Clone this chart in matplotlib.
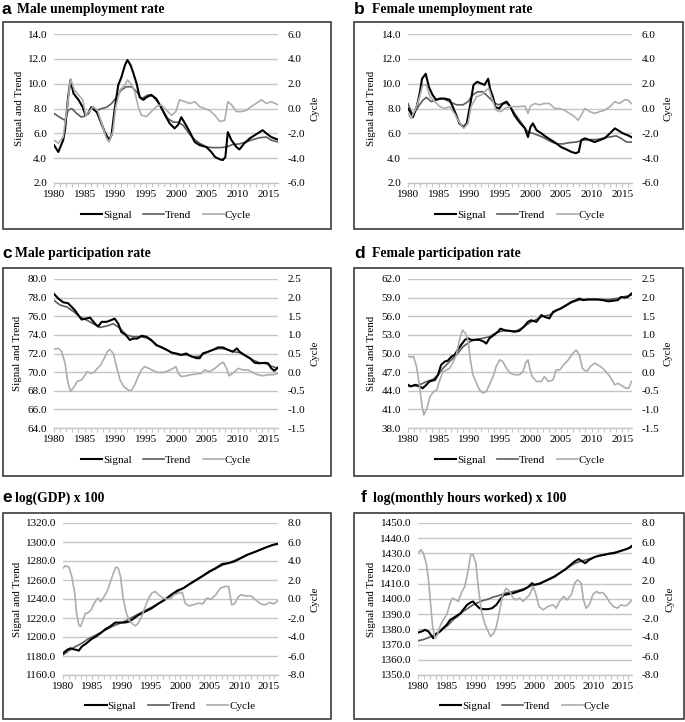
import matplotlib
matplotlib.use('Agg')
import matplotlib.pyplot as plt
from matplotlib.patches import Rectangle
from matplotlib.lines import Line2D
from matplotlib.ticker import FormatStrFormatter

# ---------------- data ----------------
# a: Male unemployment rate
a_sig_x = [1980.0,1980.7,1981.5,1981.8,1982.3,1982.7,1983.2,1984.0,1984.7,1985.1,1985.6,1986.1,1987.0,1987.5,1988.3,1989.0,1989.4,1989.9,1990.5,1991.0,1991.6,1992.0,1992.5,1992.9,1993.5,1994.0,1994.6,1995.1,1995.9,1996.7,1997.5,1998.1,1998.9,1999.7,2000.3,2000.8,2001.4,2002.2,2003.0,2003.8,2004.9,2005.7,2006.3,2007.1,2007.6,2008.0,2008.4,2009.0,2009.8,2010.3,2011.1,2012.0,2012.8,2013.6,2014.1,2014.7,2015.5,2016.0,2016.6]
a_sig_y = [5.05,4.5,5.45,6.26,8.9,10.3,9.2,8.7,8.1,7.5,7.6,8.1,7.7,7.1,6.1,5.45,5.85,7.9,9.9,10.5,11.5,11.9,11.5,10.95,10.0,8.9,8.7,8.9,9.1,8.8,8.1,7.5,6.8,6.4,6.7,7.3,6.8,6.1,5.3,5.05,4.9,4.5,4.1,3.9,3.85,4.1,6.1,5.45,4.9,4.7,5.2,5.6,5.85,6.1,6.25,6.0,5.7,5.6,5.5]
a_tr_x = [1980.0,1981.25,1981.8,1982.3,1982.9,1983.7,1984.5,1985.3,1986.1,1987.0,1987.8,1988.6,1989.4,1990.2,1991.0,1991.8,1992.7,1993.5,1994.3,1995.4,1996.2,1997.0,1997.8,1998.6,1999.5,2000.3,2001.1,2001.9,2002.7,2003.8,2004.9,2006.0,2007.1,2008.2,2009.2,2010.3,2011.4,2012.5,2013.6,2014.7,2015.5,2016.6]
a_tr_y = [7.6,7.2,7.05,7.85,8.0,7.6,7.3,7.45,8.1,7.85,8.0,8.1,8.4,8.9,9.5,9.75,9.75,9.35,8.8,9.1,8.95,8.5,7.85,7.2,6.9,6.9,6.65,6.1,5.6,5.2,4.9,4.85,4.85,4.9,5.1,5.15,5.3,5.5,5.65,5.7,5.45,5.3]
a_cy_x = [1980.0,1980.7,1981.5,1982.1,1982.7,1983.3,1984.0,1984.7,1985.2,1985.9,1986.4,1987.1,1987.8,1988.5,1989.0,1989.6,1990.1,1990.8,1991.6,1992.0,1992.7,1993.2,1993.75,1994.3,1995.1,1995.9,1996.7,1997.5,1998.4,1999.2,1999.9,2000.5,2001.4,2002.2,2003.0,2003.8,2004.6,2005.4,2006.3,2007.1,2007.9,2008.4,2009.0,2009.8,2010.6,2011.4,2012.2,2013.0,2013.9,2014.7,2015.5,2016.6]
a_cy_y = [-2.55,-2.8,-2.3,-0.15,2.4,1.5,1.1,0.7,-0.55,-0.15,0.15,-0.15,-1.2,-2.3,-2.7,-1.9,0.15,1.5,1.9,2.3,1.9,1.35,0.15,-0.55,-0.65,-0.25,0.15,0.3,-0.15,-0.55,-0.25,0.7,0.55,0.4,0.55,0.15,0.0,-0.15,-0.55,-1.05,-0.95,0.55,0.3,-0.25,-0.25,-0.15,0.15,0.4,0.7,0.4,0.55,0.3]

# b: Female unemployment rate
b_sig_x = [1980.0,1980.4,1980.8,1981.4,1981.9,1982.3,1982.9,1983.4,1984.0,1984.6,1985.2,1986.0,1986.8,1987.3,1987.9,1988.4,1989.1,1989.6,1990.2,1990.7,1991.3,1992.0,1992.5,1993.1,1993.4,1993.9,1994.3,1994.9,1995.5,1996.1,1996.7,1997.4,1998.2,1999.1,1999.6,2000.0,2000.4,2001.0,2001.8,2002.6,2003.4,2004.2,2005.0,2005.9,2006.7,2007.4,2007.9,2008.3,2008.9,2009.7,2010.5,2011.3,2012.1,2013.0,2013.8,2014.3,2015.1,2015.9,2016.5]
b_sig_y = [8.0,7.7,7.3,8.1,9.2,10.4,10.8,9.75,9.1,8.7,8.8,8.8,8.7,8.15,7.45,6.8,6.5,6.8,8.4,9.9,10.15,10.0,9.9,10.4,9.6,8.9,8.1,8.0,8.4,8.55,8.15,7.45,6.9,6.4,5.7,6.5,6.8,6.25,6.0,5.7,5.45,5.2,4.9,4.7,4.5,4.4,4.5,5.45,5.6,5.45,5.3,5.45,5.6,6.0,6.4,6.25,6.0,5.85,5.7]
b_tr_x = [1980.0,1980.8,1981.6,1982.4,1983.0,1983.8,1984.6,1985.7,1986.8,1987.9,1989.0,1989.8,1990.6,1991.4,1992.2,1993.1,1993.9,1994.7,1995.5,1996.3,1997.1,1998.0,1998.8,1999.6,2000.4,2001.2,2002.0,2002.9,2003.7,2004.5,2005.3,2006.4,2007.5,2008.6,2009.7,2010.8,2011.8,2012.9,2014.0,2014.8,2015.7,2016.5]
b_tr_y = [8.4,7.45,8.1,8.65,8.9,8.55,8.7,8.8,8.55,8.3,8.3,8.55,9.1,9.35,9.35,8.95,8.55,8.3,8.4,8.4,7.85,7.2,6.65,6.1,6.0,5.85,5.7,5.45,5.25,5.15,5.15,5.25,5.3,5.45,5.5,5.5,5.6,5.7,5.8,5.6,5.3,5.3]
b_cy_x = [1980.0,1980.5,1981.3,1981.9,1982.4,1983.0,1983.6,1984.4,1985.2,1986.0,1986.8,1987.6,1988.3,1989.1,1989.8,1990.3,1991.2,1992.0,1992.8,1993.2,1993.8,1994.4,1995.2,1995.8,1996.6,1997.4,1998.2,1999.1,1999.6,2000.0,2000.7,2001.5,2002.3,2003.1,2004.0,2004.8,2005.6,2006.4,2007.2,2007.8,2008.3,2008.9,2009.7,2010.5,2011.3,2012.1,2013.0,2013.8,2014.6,2015.4,2015.9,2016.5]
b_cy_y = [-0.4,-0.8,0.0,0.95,1.9,1.9,0.95,0.55,0.15,0.0,0.15,-0.4,-1.05,-1.6,-1.2,0.15,0.95,1.1,1.5,1.6,0.7,-0.15,-0.25,0.0,0.15,0.15,0.15,0.2,-0.4,0.2,0.4,0.3,0.4,0.4,0.0,0.0,-0.15,-0.4,-0.65,-0.95,-0.55,0.0,-0.25,-0.4,-0.25,-0.15,0.15,0.55,0.4,0.7,0.7,0.4]

# c: Male participation rate
c_sig_x = [1980.0,1980.7,1981.5,1982.3,1982.9,1983.4,1984.0,1984.5,1985.2,1985.9,1986.7,1987.2,1987.8,1988.6,1989.4,1989.9,1990.5,1991.0,1991.7,1992.4,1992.9,1993.6,1994.3,1995.1,1995.9,1996.7,1997.5,1998.4,1999.2,2000.0,2000.8,2001.6,2002.4,2003.3,2003.8,2004.3,2005.2,2006.0,2006.8,2007.6,2008.4,2009.2,2009.9,2010.3,2011.1,2012.0,2012.8,2013.6,2014.4,2015.0,2015.5,2016.0,2016.6]
c_sig_y = [78.4,77.9,77.5,77.4,77.0,76.65,76.1,75.65,75.75,75.85,75.2,74.9,75.4,75.4,75.6,75.75,75.2,74.3,74.0,73.45,73.6,73.6,73.9,73.8,73.45,72.9,72.7,72.4,72.1,72.0,71.85,72.0,71.7,71.5,71.5,72.0,72.2,72.4,72.65,72.65,72.4,72.2,72.55,72.2,71.85,71.5,71.0,70.95,71.0,70.95,70.4,70.15,70.5]
c_tr_x = [1980.0,1981.0,1982.1,1983.2,1984.2,1985.3,1986.4,1987.5,1988.6,1989.7,1990.8,1991.8,1992.9,1994.0,1995.1,1996.2,1997.3,1998.4,1999.5,2000.5,2001.6,2002.7,2003.8,2004.9,2006.0,2007.1,2008.2,2009.2,2010.3,2011.4,2012.5,2013.6,2014.7,2015.5,2016.6]
c_tr_y = [77.7,77.2,77.0,76.5,75.95,75.6,75.2,74.8,74.95,75.2,74.7,74.0,73.8,73.8,73.7,73.25,72.7,72.4,72.0,71.85,71.85,71.65,71.7,72.1,72.4,72.55,72.45,72.2,72.1,71.7,71.3,71.0,70.9,70.65,70.4]
c_cy_x = [1980.0,1980.7,1981.25,1981.8,1982.3,1982.7,1983.3,1983.8,1984.5,1985.1,1985.4,1986.0,1986.5,1987.1,1987.6,1988.2,1988.7,1989.1,1989.7,1990.2,1990.8,1991.4,1992.2,1992.7,1993.2,1993.75,1994.3,1994.8,1995.5,1996.2,1997.0,1997.8,1998.6,1999.5,1999.9,2000.3,2000.8,2001.6,2002.4,2003.3,2004.1,2004.6,2005.4,2006.3,2007.1,2007.7,2008.2,2008.6,2009.2,2010.1,2010.9,2011.7,2012.5,2013.3,2014.1,2015.0,2015.8,2016.6]
c_cy_y = [0.61,0.64,0.55,0.24,-0.3,-0.52,-0.39,-0.25,-0.21,-0.07,0.01,-0.03,-0.01,0.1,0.19,0.37,0.55,0.61,0.5,0.15,-0.21,-0.39,-0.49,-0.48,-0.34,-0.12,0.06,0.15,0.1,0.04,-0.01,-0.01,0.03,0.1,0.15,-0.03,-0.12,-0.1,-0.07,-0.05,-0.03,0.06,0.01,0.1,0.22,0.26,0.1,-0.1,-0.03,0.1,0.06,0.06,-0.01,-0.07,-0.1,-0.07,-0.07,-0.03]

# d: Female participation rate
d_sig_x = [1980.0,1980.5,1981.1,1981.9,1982.4,1983.0,1983.5,1984.4,1984.9,1985.4,1986.0,1986.5,1987.1,1987.6,1988.2,1988.7,1989.3,1989.8,1990.3,1991.1,1991.7,1992.4,1992.8,1993.3,1994.0,1994.7,1995.1,1995.8,1996.6,1997.4,1998.2,1998.9,1999.6,2000.1,2001.0,2001.8,2002.3,2003.1,2003.7,2004.2,2005.0,2005.9,2006.7,2007.5,2008.0,2008.6,2009.4,2010.2,2011.0,2011.8,2012.7,2013.5,2014.3,2014.8,2015.4,2015.9,2016.5]
d_sig_y = [44.95,44.7,44.95,44.7,44.4,44.95,45.5,45.75,46.55,48.15,48.7,48.85,49.5,49.75,50.7,51.4,52.2,52.45,52.2,52.2,52.2,51.9,51.6,52.45,52.95,53.5,54.0,53.75,53.65,53.5,53.65,54.3,55.1,55.35,55.1,56.2,55.9,55.65,56.7,56.95,57.25,57.8,58.3,58.6,58.85,58.6,58.7,58.7,58.7,58.6,58.4,58.5,58.6,59.1,59.0,59.1,59.65]
d_tr_x = [1980.0,1981.1,1982.2,1983.1,1984.1,1984.9,1985.7,1986.8,1987.9,1989.0,1990.1,1991.2,1992.2,1993.3,1994.4,1995.5,1996.6,1997.7,1998.8,1999.9,2001.0,2002.0,2003.1,2004.2,2005.3,2006.4,2007.5,2008.6,2009.7,2010.8,2011.8,2012.9,2014.0,2015.1,2016.5]
d_tr_y = [44.7,44.8,45.1,45.5,45.85,46.55,47.6,48.7,49.75,51.1,51.9,52.3,52.45,52.7,53.35,53.65,53.65,53.65,54.2,54.95,55.5,56.0,56.2,56.85,57.5,58.05,58.5,58.7,58.7,58.7,58.7,58.7,58.85,59.1,59.4]
d_cy_x = [1980.0,1980.5,1980.9,1981.4,1981.9,1982.3,1982.6,1983.1,1983.6,1984.2,1984.7,1985.2,1985.7,1986.3,1986.8,1987.3,1987.9,1988.4,1988.9,1989.4,1989.8,1990.2,1990.6,1991.2,1991.7,1992.2,1992.8,1993.3,1993.9,1994.4,1995.0,1995.5,1996.1,1996.7,1997.4,1998.2,1998.8,1999.2,1999.6,1999.9,2000.3,2001.0,2001.8,2002.3,2002.9,2003.7,2004.2,2004.8,2005.4,2006.2,2006.9,2007.5,2008.0,2008.5,2009.2,2009.8,2010.5,2011.3,2012.1,2013.0,2013.8,2014.3,2015.0,2015.6,2016.1,2016.5]
d_cy_y = [0.43,0.4,0.42,0.15,-0.39,-0.92,-1.15,-0.97,-0.65,-0.52,-0.48,-0.21,0.01,0.06,0.1,0.24,0.46,0.86,1.13,1.04,0.86,0.33,-0.07,-0.3,-0.48,-0.56,-0.52,-0.34,-0.12,0.15,0.33,0.28,0.1,-0.03,-0.07,-0.07,0.01,0.24,0.33,0.1,-0.12,-0.25,-0.25,-0.12,-0.25,-0.21,0.06,0.06,0.19,0.33,0.5,0.59,0.46,0.1,0.01,0.15,0.24,0.17,0.06,-0.12,-0.34,-0.3,-0.37,-0.43,-0.43,-0.25]

# e: log(GDP) x 100
e_sig_x = [1980.0,1980.7,1981.25,1981.8,1982.3,1982.7,1983.2,1984.0,1984.8,1985.6,1986.4,1987.2,1988.0,1988.9,1989.7,1990.5,1991.3,1992.1,1992.9,1994.0,1995.1,1996.2,1997.3,1998.4,1999.5,2000.5,2001.6,2002.7,2003.8,2004.9,2006.0,2007.1,2008.2,2009.2,2010.3,2011.4,2012.5,2013.6,2014.7,2015.8,2016.6]
e_sig_y = [1182.9,1186.4,1188.1,1187.1,1186.4,1185.7,1189.9,1193.4,1197.6,1200.5,1204.0,1208.2,1211.0,1215.2,1215.2,1215.2,1216.3,1219.8,1223.3,1226.8,1230.3,1234.9,1239.1,1244.4,1249.0,1251.4,1256.0,1260.2,1264.4,1269.0,1272.5,1276.8,1277.8,1279.6,1283.1,1286.6,1289.1,1291.9,1294.7,1297.1,1298.0]
e_tr_x = [1980.0,1981.0,1982.1,1983.2,1984.2,1985.3,1986.4,1987.5,1988.6,1989.7,1990.8,1991.8,1992.9,1994.0,1995.1,1996.2,1997.3,1998.4,1999.5,2000.5,2001.6,2002.7,2003.8,2004.9,2006.0,2007.1,2008.2,2009.2,2010.3,2011.4,2012.5,2013.6,2014.7,2015.8,2016.6]
e_tr_y = [1181.1,1185.7,1189.9,1193.4,1197.6,1201.2,1204.7,1208.2,1211.7,1214.5,1217.3,1220.8,1224.4,1227.9,1231.4,1235.3,1239.3,1243.6,1247.8,1251.6,1255.7,1259.8,1264.0,1268.2,1272.0,1275.5,1278.0,1280.5,1283.5,1286.6,1289.3,1292.0,1294.6,1297.0,1298.3]
e_cy_x = [1980.0,1980.4,1981.0,1981.5,1982.0,1982.3,1982.7,1983.0,1983.4,1983.8,1984.2,1984.8,1985.3,1985.9,1986.4,1987.0,1987.5,1988.0,1988.6,1989.0,1989.4,1989.8,1990.2,1990.7,1991.2,1991.7,1992.3,1992.8,1993.4,1994.0,1994.6,1995.1,1995.7,1996.3,1997.0,1997.8,1998.4,1998.9,1999.7,2000.3,2000.8,2001.4,2002.2,2003.0,2003.8,2004.5,2005.2,2006.0,2006.8,2007.6,2008.2,2008.7,2009.2,2009.9,2010.3,2011.1,2012.0,2012.8,2013.6,2014.4,2015.2,2015.9,2016.6]
e_cy_y = [3.25,3.5,3.36,2.37,0.62,-1.5,-2.72,-2.9,-2.2,-1.5,-1.5,-1.14,-0.44,0.09,-0.26,0.26,0.79,1.67,2.73,3.36,3.25,2.37,0.26,-1.32,-2.2,-2.55,-2.83,-2.55,-1.85,-0.79,0.09,0.62,0.79,0.44,0.09,-0.02,0.09,0.44,0.62,0.69,-0.44,-0.72,-0.61,-0.44,-0.51,0.09,-0.02,0.44,1.14,1.32,1.32,-0.61,-0.51,0.26,0.44,0.33,0.33,-0.09,-0.51,-0.61,-0.37,-0.51,-0.16]

# f: log(monthly hours worked) x 100
f_sig_x = [1980.0,1980.6,1981.2,1981.8,1982.2,1982.6,1983.1,1983.75,1984.3,1984.9,1985.5,1986.0,1986.6,1987.3,1987.8,1988.4,1989.0,1989.4,1989.9,1990.5,1991.1,1992.0,1992.7,1993.4,1994.0,1994.7,1995.4,1996.25,1997.1,1998.0,1998.8,1999.5,1999.9,2000.8,2001.6,2002.5,2003.4,2004.2,2005.1,2005.9,2006.8,2007.5,2008.1,2008.6,2009.3,2010.2,2011.0,2011.9,2012.7,2013.6,2014.4,2015.3,2016.1,2016.6]
f_sig_y = [1377.9,1378.6,1379.7,1378.6,1376.4,1374.2,1377.0,1378.6,1380.8,1383.0,1386.3,1387.4,1388.9,1390.7,1393.3,1396.2,1397.7,1398.4,1396.2,1394.0,1393.3,1393.3,1394.0,1396.2,1399.5,1402.7,1403.2,1403.8,1404.9,1406.0,1407.8,1410.4,1409.3,1410.0,1411.5,1413.1,1414.8,1417.0,1419.2,1421.9,1424.7,1426.3,1424.7,1423.6,1425.8,1427.6,1428.5,1429.1,1429.8,1430.2,1431.3,1432.4,1433.5,1435.0]
f_tr_x = [1980.0,1980.9,1981.8,1982.6,1983.5,1984.3,1985.2,1986.0,1986.9,1987.7,1988.6,1989.4,1990.3,1991.1,1992.0,1992.8,1993.7,1994.5,1995.4,1996.25,1997.1,1998.0,1998.8,1999.7,2000.8,2002.0,2003.2,2004.4,2005.6,2006.8,2008.0,2009.2,2010.4,2011.6,2012.8,2014.0,2015.2,2016.6]
f_tr_y = [1372.5,1373.3,1374.6,1376.0,1377.9,1380.3,1383.0,1386.3,1388.9,1391.8,1394.0,1396.2,1397.7,1399.0,1399.9,1401.2,1402.1,1403.2,1404.3,1404.9,1405.6,1406.7,1407.8,1409.1,1410.4,1412.5,1414.8,1417.5,1420.5,1423.5,1425.0,1426.3,1427.8,1429.0,1430.0,1431.0,1432.3,1434.2]
f_cy_x = [1980.0,1980.5,1980.9,1981.4,1981.8,1982.2,1982.5,1982.9,1983.3,1983.75,1984.3,1984.9,1985.5,1985.9,1986.5,1986.9,1987.4,1988.0,1988.6,1989.0,1989.4,1989.9,1990.3,1990.85,1991.4,1992.0,1992.4,1993.0,1993.4,1994.0,1994.5,1995.1,1995.7,1996.25,1996.8,1997.4,1998.0,1998.5,1999.1,1999.7,2000.1,2000.7,2001.4,2002.2,2003.1,2003.6,2004.2,2004.9,2005.5,2006.2,2006.8,2007.3,2007.9,2008.3,2008.75,2009.3,2009.9,2010.5,2011.0,2011.6,2012.2,2012.7,2013.4,2014.1,2014.7,2015.3,2015.85,2016.6]
f_cy_y = [4.84,5.19,4.84,3.78,2.02,-0.79,-2.9,-4.13,-3.78,-2.9,-2.2,-1.67,-0.44,0.09,-0.09,-0.26,0.62,1.32,3.08,4.66,4.66,3.78,1.32,-1.32,-2.55,-3.43,-3.95,-3.53,-2.9,-1.14,0.44,1.14,0.79,0.09,-0.09,0.09,-0.26,0.09,0.44,1.32,0.62,-0.79,-1.14,-0.79,-0.61,-0.97,-0.26,0.26,-0.09,0.44,1.67,2.02,1.67,-0.09,-0.97,-0.61,0.44,0.79,0.62,0.69,0.26,-0.26,-0.79,-0.97,-0.61,-0.72,-0.61,-0.09]

# axis ticks / labels
x_label_years = [1980, 1985, 1990, 1995, 2000, 2005, 2010, 2015]
x_minor_years = list(range(1980, 2017))
a_lt = [2.0, 4.0, 6.0, 8.0, 10.0, 12.0, 14.0]
a_rt = [-6.0, -4.0, -2.0, 0.0, 2.0, 4.0, 6.0]
c_lt = [64.0, 66.0, 68.0, 70.0, 72.0, 74.0, 76.0, 78.0, 80.0]
c_rt = [-1.5, -1.0, -0.5, 0.0, 0.5, 1.0, 1.5, 2.0, 2.5]
d_lt = [38.0, 41.0, 44.0, 47.0, 50.0, 53.0, 56.0, 59.0, 62.0]
e_lt = [1160.0, 1180.0, 1200.0, 1220.0, 1240.0, 1260.0, 1280.0, 1300.0, 1320.0]
e_rt = [-8.0, -6.0, -4.0, -2.0, 0.0, 2.0, 4.0, 6.0, 8.0]
f_lt = [1350.0, 1360.0, 1370.0, 1380.0, 1390.0, 1400.0, 1410.0, 1420.0, 1430.0, 1440.0, 1450.0]

titles = ["Male unemployment rate", "Female unemployment rate",
          "Male participation rate", "Female participation rate",
          "log(GDP) x 100", "log(monthly hours worked) x 100"]
letters = ["a", "b", "c", "d", "e", "f"]
series_names = ["Signal", "Trend", "Cycle"]

# ---------------- styling ----------------
W, H = 685, 722
SERIF = ['Liberation Serif', 'DejaVu Serif']
SANS = ['Liberation Sans', 'DejaVu Sans']
SIG_C, TR_C, CY_C = '#000000', '#5e5e5e', '#adadad'
GRID_C = '#c6c6c6'
FS = 8

fig = plt.figure(figsize=(W / 100, H / 100), dpi=100)


def fx(px):
    return px / W


def fy(py):
    return 1 - py / H


def panel(i, box, area, letter_x, title_x, title_y, ylab_x, cyc_x, legend_y,
          sig, tr, cy, lt, rt):
    bx0, by0, bx1, by1 = box
    fig.add_artist(Rectangle((fx(bx0), fy(by1)), fx(bx1) - fx(bx0), fy(by0) - fy(by1),
                             transform=fig.transFigure, fill=False,
                             edgecolor='#3c3c3c', lw=1.2))
    # title
    fig.text(fx(letter_x), fy(title_y), letters[i], family=SANS, weight='bold',
             fontsize=12.5, ha='left', va='center')
    fig.text(fx(title_x), fy(title_y), titles[i], family=SERIF, weight='bold',
             fontsize=9.8, ha='left', va='center')

    x0, y0, x1, y1 = area
    ax = fig.add_axes([fx(x0), fy(y1), fx(x1) - fx(x0), fy(y0) - fy(y1)])
    ax.plot(tr[0], tr[1], color=TR_C, lw=1.2, zorder=3)
    ax.plot(sig[0], sig[1], color=SIG_C, lw=1.5, zorder=4)
    ax.set_xlim(1980, 2016.6)
    ax.set_ylim(lt[0], lt[-1])
    ax.set_yticks(lt)
    ax.yaxis.set_major_formatter(FormatStrFormatter('%.1f'))
    ax.set_xticks(x_label_years)
    ax.set_xticks(x_minor_years, minor=True)
    ax.set_xticklabels([str(v) for v in x_label_years])
    ax.grid(axis='y', color=GRID_C, lw=1.0)
    ax.set_axisbelow(True)
    for s in ['top', 'left', 'right']:
        ax.spines[s].set_visible(False)
    ax.spines['bottom'].set_color(GRID_C)
    ax.spines['bottom'].set_linewidth(1.0)
    ax.tick_params(axis='y', length=0, pad=5, labelsize=FS)
    ax.tick_params(axis='x', which='both', length=3, color=GRID_C, width=0.8,
                   pad=2, labelsize=FS)
    for lab in ax.get_xticklabels() + ax.get_yticklabels():
        lab.set_family(SERIF)

    ax2 = ax.twinx()
    ax2.plot(cy[0], cy[1], color=CY_C, lw=1.2)
    ax2.set_ylim(rt[0], rt[-1])
    ax2.set_yticks(rt)
    ax2.yaxis.set_major_formatter(FormatStrFormatter('%.1f'))
    for s in ['top', 'left', 'right', 'bottom']:
        ax2.spines[s].set_visible(False)
    ax2.tick_params(axis='y', length=0, pad=7, labelsize=FS)
    for lab in ax2.get_yticklabels():
        lab.set_family(SERIF)

    yc = (y0 + y1) / 2
    fig.text(fx(ylab_x), fy(yc), "Signal and Trend", family=SERIF, fontsize=7.8,
             rotation=90, ha='center', va='center')
    fig.text(fx(cyc_x), fy(yc), "Cycle", family=SERIF, fontsize=7.8,
             rotation=90, ha='center', va='center')

    handles = [Line2D([], [], color=SIG_C, lw=1.5),
               Line2D([], [], color=TR_C, lw=1.2),
               Line2D([], [], color=CY_C, lw=1.2)]
    fig.legend(handles, series_names, loc='center',
               bbox_to_anchor=(fx((x0 + x1) / 2), fy(legend_y)),
               ncol=3, frameon=False, prop={'family': SERIF, 'size': FS},
               handlelength=1.9, handletextpad=0.1, columnspacing=1.0,
               borderaxespad=0, borderpad=0)


panel(0, (3, 22, 331, 229), (54, 34, 278, 183), 2, 17, 10, 20, 315, 215,
      (a_sig_x, a_sig_y), (a_tr_x, a_tr_y), (a_cy_x, a_cy_y), a_lt, a_rt)
panel(1, (354, 22, 683, 229), (408, 34, 632, 183), 354, 372, 10, 372, 668, 215,
      (b_sig_x, b_sig_y), (b_tr_x, b_tr_y), (b_cy_x, b_cy_y), a_lt, a_rt)
panel(2, (3, 268, 331, 476), (54, 279, 278, 428), 2, 15, 253, 18, 315, 460,
      (c_sig_x, c_sig_y), (c_tr_x, c_tr_y), (c_cy_x, c_cy_y), c_lt, c_rt)
panel(3, (354, 268, 683, 476), (408, 279, 632, 428), 354, 372, 254, 372, 668, 460,
      (d_sig_x, d_sig_y), (d_tr_x, d_tr_y), (d_cy_x, d_cy_y), d_lt, c_rt)
panel(4, (3, 513, 331, 719), (63, 523, 278, 675), 2, 15, 498, 18, 315, 706,
      (e_sig_x, e_sig_y), (e_tr_x, e_tr_y), (e_cy_x, e_cy_y), e_lt, e_rt)
panel(5, (354, 513, 684, 719), (418, 523, 632, 675), 361, 373, 498, 372, 670, 706,
      (f_sig_x, f_sig_y), (f_tr_x, f_tr_y), (f_cy_x, f_cy_y), f_lt, e_rt)

fig.savefig('out.png', dpi=100)
